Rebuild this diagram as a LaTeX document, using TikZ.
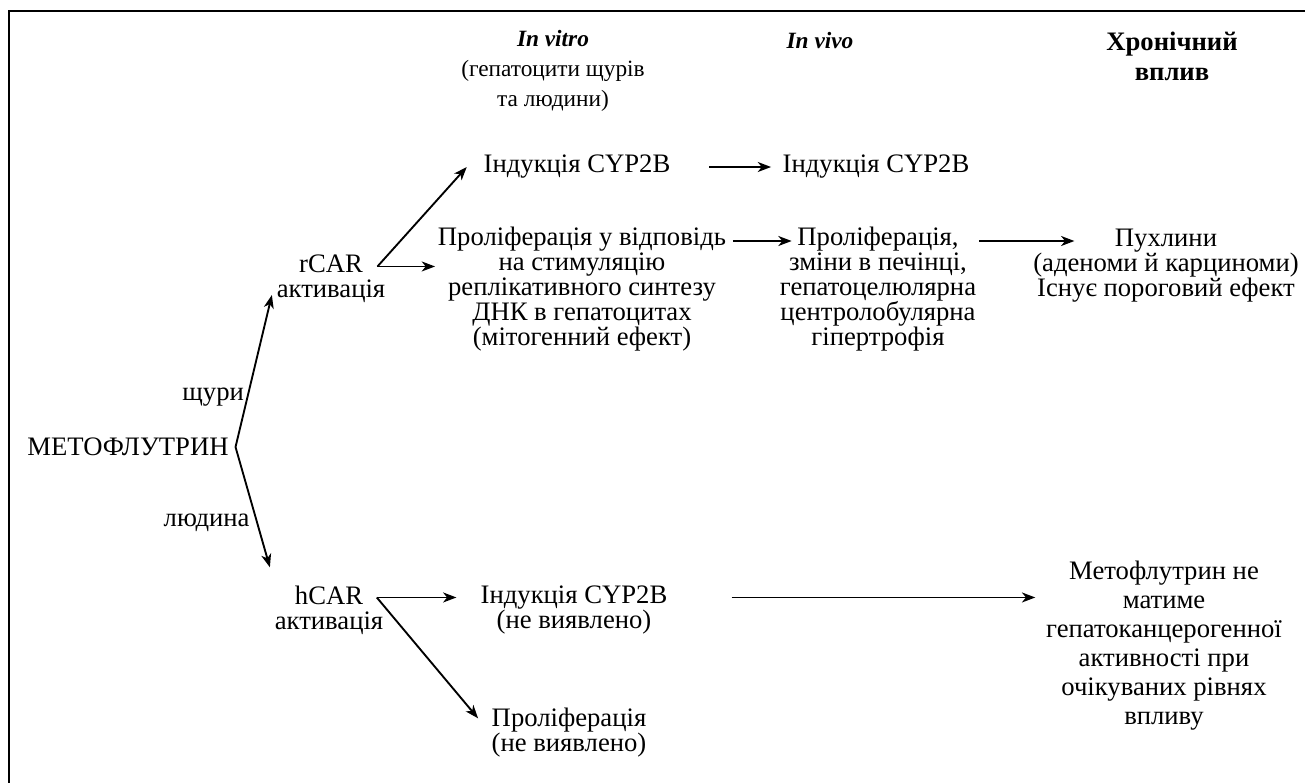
\documentclass[tikz,border=0pt]{standalone}
\usepackage{fontspec}
\setmainfont{Liberation Serif}
\usetikzlibrary{arrows.meta,calc}

\begin{document}
\begin{tikzpicture}[x=0.75pt,y=-0.75pt,
  txt/.style={align=center,inner sep=2pt,font=\fontsize{20}{18.75}\selectfont},
  head/.style={align=center,inner sep=2pt,font=\fontsize{17.5}{22.5}\selectfont},
  chronhead/.style={align=center,inner sep=2pt,font=\fontsize{20}{22.5}\selectfont\bfseries},
  wide/.style={align=center,inner sep=2pt,font=\fontsize{20}{21.75}\selectfont},
  arr/.style={-{Stealth[length=10pt,width=7.5pt,inset=3pt]},line width=1.4pt}]

\useasboundingbox (0,0) rectangle (1305,782);
\draw[line width=1.5pt] (9,800) -- (9,11) -- (1320,11); %% frame

%% column heads
\node[head] (vitro) at (553,71) {\textbf{\textit{In vitro}}\\(гепатоцити щурів\\та людини)};
\node[head] (vivo) at (820,41) {\textbf{\textit{In vivo}}};
\node[chronhead] (chron) at (1172,56) {Хронічний\\вплив};

%% left part
\node[txt] (meto) at (128,447) {МЕТОФЛУТРИН};
\node[txt] (rcar) at (331,279) {rCAR\\активація};
\node[txt] (hcar) at (329,610) {hCAR\\активація};

%% rats
\node[txt] (indr) at (577,167) {Індукція CYP2B};
\node[txt] (indv) at (876,167) {Індукція CYP2B};
\node[txt] (prolr) at (582,289) {Проліферація у відповідь\\на стимуляцію\\реплікативного синтезу\\ДНК в гепатоцитах\\(мітогенний ефект)};
\node[txt] (prolv) at (878,289) {Проліферація,\\зміни в печінці,\\гепатоцелюлярна\\центролобулярна\\гіпертрофія};
\node[txt] (tum) at (1166,266) {Пухлини\\(аденоми й карциноми)\\Існує пороговий ефект};

%% humans
\node[txt] (indh) at (574,610) {Індукція CYP2B\\(не виявлено)};
\node[txt] (prolh) at (569,733) {Проліферація\\(не виявлено)};
\node[wide] (concl) at (1164,646) {Метофлутрин не\\матиме\\гепатоканцерогенної\\активності при\\очікуваних рівнях\\впливу};

%% arrows
\coordinate (fork) at ([xshift=3pt]meto.east);
\draw[arr] (fork) -- ([xshift=-1.5pt,yshift=-12pt]rcar.west)
  node[txt,pos=0.33,left=0pt] (rats) {щури};
\draw[arr] (fork) -- ([xshift=-1.5pt,yshift=32pt]hcar.west)
  node[txt,pos=0.63,left=3pt] (hum) {людина};

\coordinate (rfork) at ([xshift=-8pt,yshift=9.4pt]rcar.east);
\draw[arr] (rfork) -- ([xshift=-10.5pt]indr.west);
\draw[arr] (rfork) -- (rfork -| prolr.west);
\draw[arr] ([xshift=27pt]indr.east) -- ([xshift=-6.5pt]indv.west);

\coordinate (rv) at ([xshift=3pt,yshift=36pt]prolr.east);
\coordinate (rv2) at (rv -| prolv.west);
\draw[arr] (rv) -- ([xshift=11pt]rv2);
\coordinate (vt) at ([xshift=0pt,yshift=36pt]prolv.east);
\coordinate (vt2) at (vt -| tum.west);
\draw[arr] (vt) -- ([xshift=33pt]vt2);

\coordinate (hfork) at ([xshift=-7pt,yshift=9.4pt]hcar.east);
\coordinate (hi) at (hfork -| indh.west);
\draw[arr] (hfork) -- ([xshift=-16pt]hi);
\draw[arr] (hfork) -- ([xshift=-8pt,yshift=11pt]prolh.west);
\coordinate (hc) at ([xshift=46pt,yshift=9.4pt]indh.east);
\coordinate (hc2) at (hc -| concl.west);
\draw[arr] (hc) -- ([xshift=-6pt]hc2);

\end{tikzpicture}
\end{document}
